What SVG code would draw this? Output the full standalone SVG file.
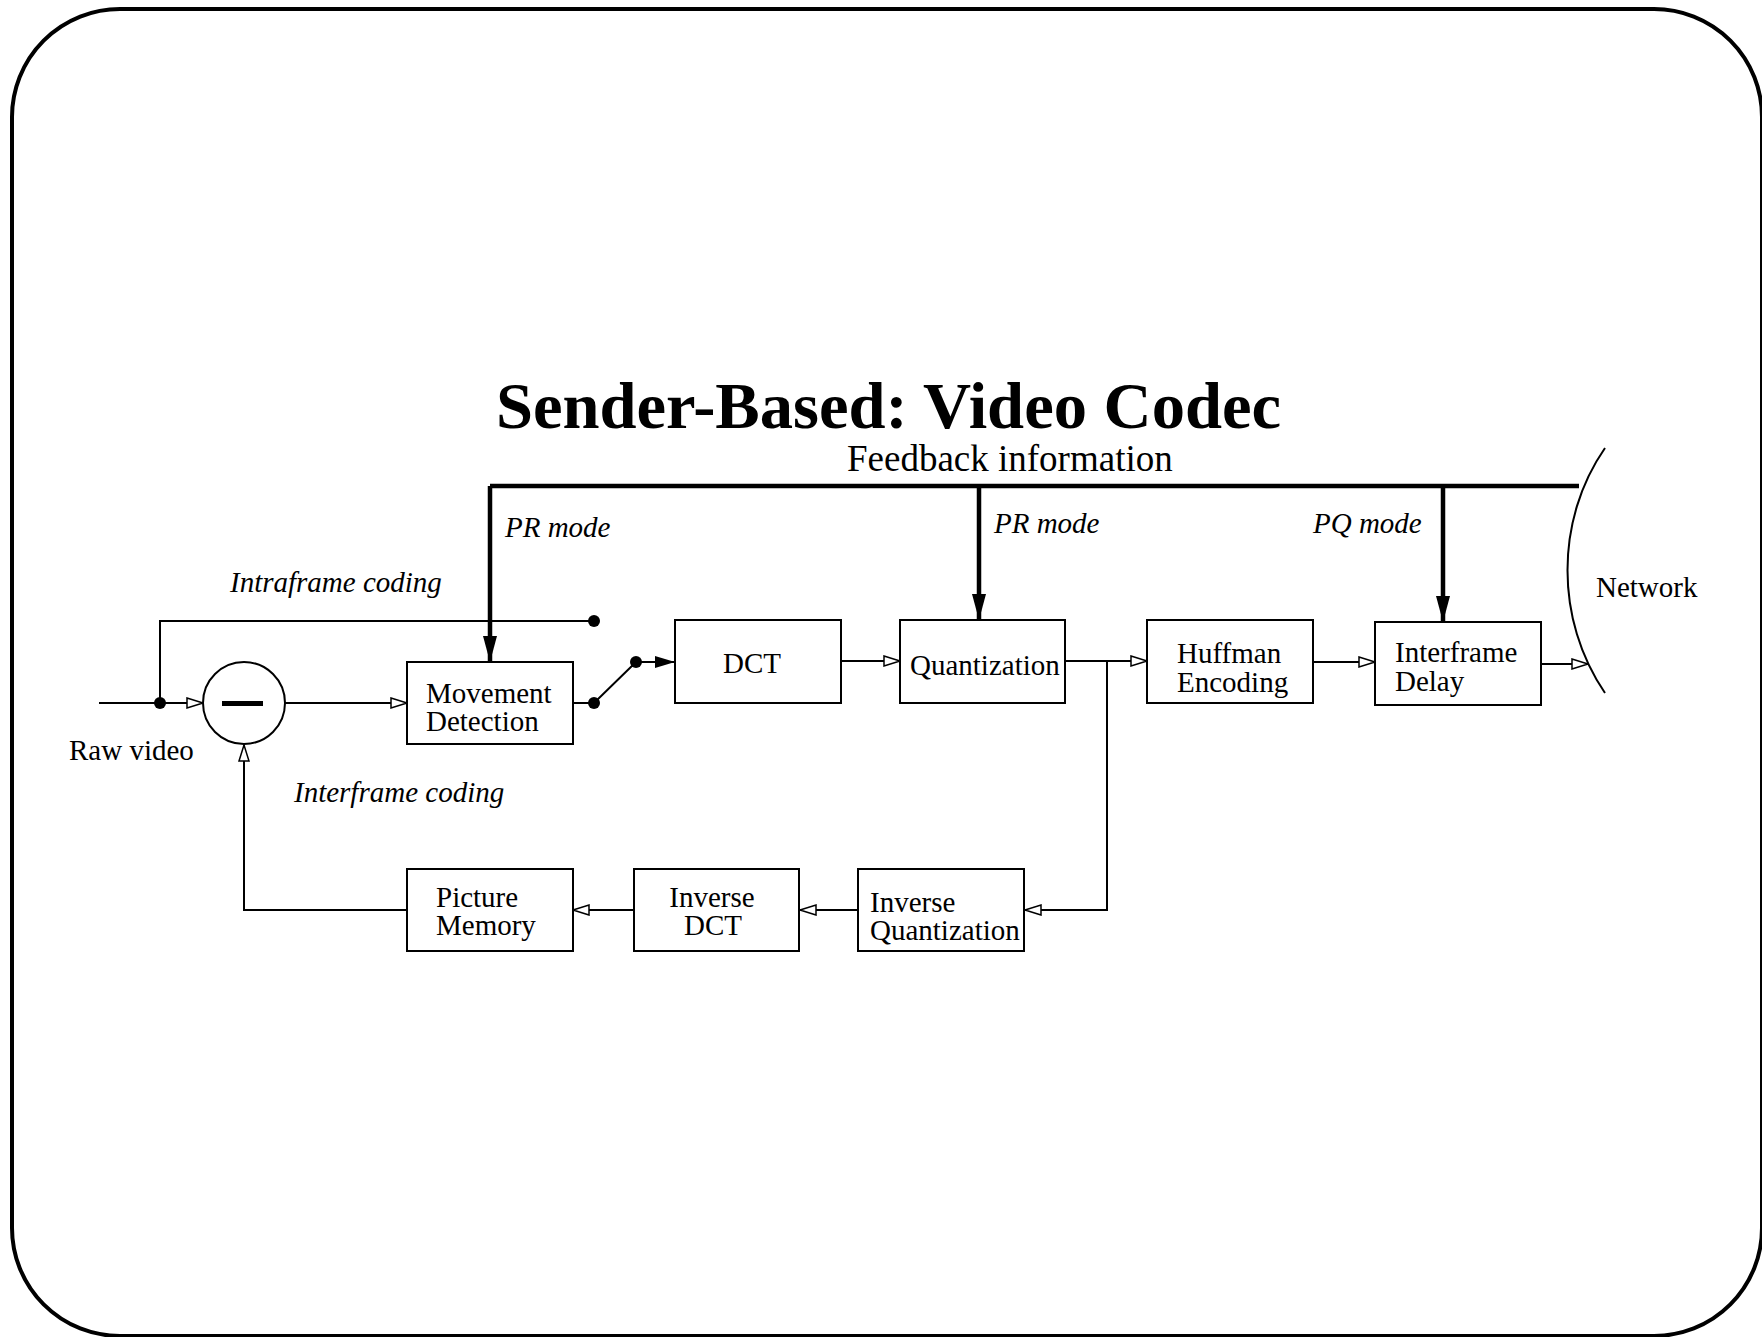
<svg xmlns="http://www.w3.org/2000/svg" width="1762" height="1337" viewBox="0 0 1762 1337">
<style>
.box{fill:#fff;stroke:#000;stroke-width:2}
.t{font-family:"Liberation Serif","Times New Roman",serif;font-size:29px;fill:#000}
.i{font-style:italic}
.c{fill:none;stroke:#000;stroke-width:2}
.fb{fill:none;stroke:#000;stroke-width:4.5}
.dot{fill:#000}
</style>
<defs>
<marker id="open" viewBox="-1 -1 18 12" refX="16" refY="5" markerWidth="18" markerHeight="12" markerUnits="userSpaceOnUse" orient="auto">
<path d="M0,0 L16,5 L0,10 Z" fill="#fff" stroke="#000" stroke-width="1.5"/>
</marker>
<marker id="fill" viewBox="0 0 20 12" refX="20" refY="6" markerWidth="20" markerHeight="12" markerUnits="userSpaceOnUse" orient="auto">
<path d="M0,0 L20,6 L0,12 Z" fill="#000"/>
</marker>
<marker id="big" viewBox="0 0 26 14" refX="26" refY="7" markerWidth="26" markerHeight="14" markerUnits="userSpaceOnUse" orient="auto">
<path d="M0,0 L26,7 L0,14 Z" fill="#000"/>
</marker>
</defs>
<rect x="12" y="9" width="1750" height="1327" rx="108" ry="108" fill="#fff" stroke="#000" stroke-width="4"/>
<text x="496" y="428" style="font-family:'Liberation Serif','Times New Roman',serif;font-weight:bold;font-size:66px" textLength="785" lengthAdjust="spacingAndGlyphs">Sender-Based: Video Codec</text>
<text class="t" x="847" y="471" style="font-size:37px">Feedback information</text>

<g id="connectors">
<path class="fb" d="M490,486 H1579"/>
<path class="fb" d="M490,486 V662" marker-end="url(#big)"/>
<path class="fb" d="M979,486 V620" marker-end="url(#big)"/>
<path class="fb" d="M1443,486 V622" marker-end="url(#big)"/>
<path class="c" d="M99,703 H203" marker-end="url(#open)"/>
<path class="c" d="M160,703 V621 H594"/>
<path class="c" d="M285,703 H407" marker-end="url(#open)"/>
<path class="c" d="M573,703 H594 L636,662"/>
<path class="c" d="M636,662 H675" marker-end="url(#fill)"/>
<path class="c" d="M841,661 H900" marker-end="url(#open)"/>
<path class="c" d="M1065,661 H1147" marker-end="url(#open)"/>
<path class="c" d="M1107,661 V910 H1025" marker-end="url(#open)"/>
<path class="c" d="M1313,662 H1375" marker-end="url(#open)"/>
<path class="c" d="M1541,664 H1588" marker-end="url(#open)"/>
<path class="c" d="M858,910 H800" marker-end="url(#open)"/>
<path class="c" d="M634,910 H573" marker-end="url(#open)"/>
<path class="c" d="M407,910 H244 V745" marker-end="url(#open)"/>
<circle class="dot" cx="160" cy="703" r="6"/>
<circle class="dot" cx="594" cy="621" r="6"/>
<circle class="dot" cx="594" cy="703" r="6"/>
<circle class="dot" cx="636" cy="662" r="6"/>
</g>

<g id="network">
<path d="M1605,448 C1555,520 1555,620 1605,693" fill="none" stroke="#000" stroke-width="2"/>
<text class="t" x="1596" y="597">Network</text>
</g>

<g id="subtract">
<circle cx="244" cy="703" r="41" fill="#fff" stroke="#000" stroke-width="2"/>
<rect x="222" y="701" width="41" height="5" fill="#000"/>
</g>

<g id="movement">
<rect class="box" x="407" y="662" width="166" height="82"/>
<text class="t" x="426" y="703">Movement</text>
<text class="t" x="426" y="731">Detection</text>
</g>
<g id="dct">
<rect class="box" x="675" y="620" width="166" height="83"/>
<text class="t" x="752" y="673" text-anchor="middle">DCT</text>
</g>
<g id="quant">
<rect class="box" x="900" y="620" width="165" height="83"/>
<text class="t" x="910" y="675">Quantization</text>
</g>
<g id="huffman">
<rect class="box" x="1147" y="620" width="166" height="83"/>
<text class="t" x="1177" y="663">Huffman</text>
<text class="t" x="1177" y="692">Encoding</text>
</g>
<g id="delay">
<rect class="box" x="1375" y="622" width="166" height="83"/>
<text class="t" x="1395" y="662">Interframe</text>
<text class="t" x="1395" y="691">Delay</text>
</g>
<g id="picmem">
<rect class="box" x="407" y="869" width="166" height="82"/>
<text class="t" x="436" y="907">Picture</text>
<text class="t" x="436" y="935">Memory</text>
</g>
<g id="invdct">
<rect class="box" x="634" y="869" width="165" height="82"/>
<text class="t" x="712" y="907" text-anchor="middle">Inverse</text>
<text class="t" x="713" y="935" text-anchor="middle">DCT</text>
</g>
<g id="invquant">
<rect class="box" x="858" y="869" width="166" height="82"/>
<text class="t" x="870" y="912">Inverse</text>
<text class="t" x="870" y="940">Quantization</text>
</g>

<g id="labels">
<text class="t i" x="505" y="537">PR mode</text>
<text class="t i" x="994" y="533">PR mode</text>
<text class="t i" x="1313" y="533">PQ mode</text>
<text class="t i" x="230" y="592">Intraframe coding</text>
<text class="t i" x="294" y="802">Interframe coding</text>
<text class="t" x="69" y="760">Raw video</text>
</g>
</svg>
